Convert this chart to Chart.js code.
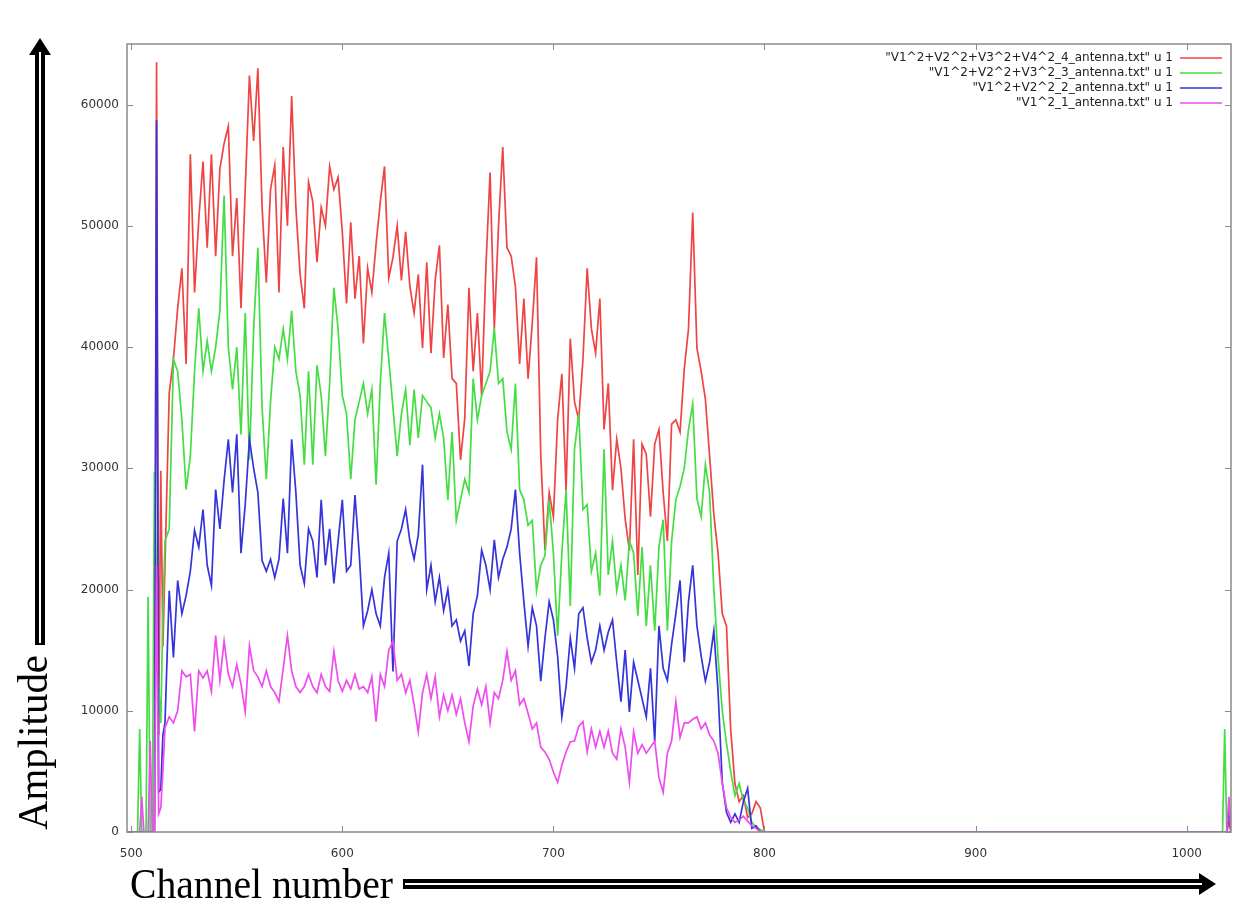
<!DOCTYPE html>
<html>
<head>
<meta charset="utf-8">
<title>Amplitude vs channel number</title>
<script src="https://cdn.jsdelivr.net/npm/chart.js@4.4.1/dist/chart.umd.min.js"></script>
<style>
  html, body { margin: 0; padding: 0; background: #fff; }
  #wrap { position: relative; width: 1253px; height: 909px; }
</style>
</head>
<body>
<div id="wrap"><canvas id="spectrum"></canvas></div>
<script>
// channel numbers (single steps around the start spikes, then every 2nd channel)
var channels = [
  498, 503, 504, 505, 506, 507, 508, 509, 510, 511, 512, 513, 514, 515, 516,
  518, 520, 522, 524, 526, 528, 530, 532, 534, 536,
  538, 540, 542, 544, 546, 548, 550, 552, 554, 556,
  558, 560, 562, 564, 566, 568, 570, 572, 574, 576,
  578, 580, 582, 584, 586, 588, 590, 592, 594, 596,
  598, 600, 602, 604, 606, 608, 610, 612, 614, 616,
  618, 620, 622, 624, 626, 628, 630, 632, 634, 636,
  638, 640, 642, 644, 646, 648, 650, 652, 654, 656,
  658, 660, 662, 664, 666, 668, 670, 672, 674, 676,
  678, 680, 682, 684, 686, 688, 690, 692, 694, 696,
  698, 700, 702, 704, 706, 708, 710, 712, 714, 716,
  718, 720, 722, 724, 726, 728, 730, 732, 734, 736,
  738, 740, 742, 744, 746, 748, 750, 752, 754, 756,
  758, 760, 762, 764, 766, 768, 770, 772, 774, 776,
  778, 780, 782, 784, 786, 788, 790, 792, 794, 796,
  798, 800,
  1017, 1018, 1019, 1020, 1021
];

// V1^2+V2^2+V3^2+V4^2 (4 antennas)
var ant4 = [
  0, 0, 0, 0, 0, 0, 0, 0, 0, 0, 63500, 8000, 29800, 15300, 22000,
  36200, 39000, 43200, 46500, 38600, 55900, 44500, 50500, 55300, 48200,
  55900, 47500, 54700, 56800, 58200, 47500, 52300, 43200, 53000, 62400,
  57000, 63000, 51500, 45300, 53000, 55000, 44500, 56500, 50000, 60700,
  51500, 46000, 43200, 53600, 52000, 47000, 51500, 50000, 54900, 53000,
  54000, 49500, 43600, 50300, 44000, 47500, 40300, 46500, 44500, 48500,
  52000, 54900, 45700, 47400, 50000, 45500, 49500, 45000, 42800, 46000,
  39900, 47000, 39500, 45500, 48400, 39100, 43500, 37400, 37000, 30700,
  34100, 44900, 38000, 42800, 36000, 46500, 54400, 41500, 50000, 56500,
  48200, 47500, 45000, 38600, 44000, 37400, 42000, 47400, 31150, 23240,
  28000, 26000, 34000, 37800, 28200, 40700, 35500, 34000, 39000, 46500,
  41500, 39500, 44000, 33200, 37000, 28200, 32400, 30000, 25800, 23200,
  32400, 21200, 32000, 31150, 26000, 32000, 33200, 28000, 24000, 33650,
  34000, 33000, 38200, 41500, 51100, 39900, 38000, 35700, 31000, 26200,
  23000, 18000, 17000, 8400, 4000, 2500, 3000, 1200, 1500, 2500,
  2000, 0,
  0, 0, 0, 800, 0
];

// V1^2+V2^2+V3^2 (3 antennas)
var ant3 = [
  0, 0, 8500, 0, 0, 0, 19400, 0, 0, 29700, 20000, 12000, 9000, 18000, 24000,
  25000, 39000, 38000, 34000, 28250, 31000, 38000, 43200, 38000, 40500,
  38000, 40000, 43000, 52500, 40000, 36500, 40000, 32800, 42800, 30700,
  41500, 48200, 35000, 29100, 35500, 40000, 39000, 41500, 39000, 43000,
  38000, 36000, 30300, 38000, 30300, 38500, 36000, 31000, 37000, 44900,
  41500, 36000, 34500, 29100, 34000, 35500, 37000, 34500, 36500, 28650,
  37000, 42800, 39000, 35000, 31000, 34500, 36500, 31900, 36500, 32500,
  36000, 35500, 35000, 32500, 34500, 32500, 27400, 33000, 25700, 27400,
  29100, 28000, 37400, 34000, 36000, 37000, 38000, 41550, 37000, 37400,
  33000, 31560, 37000, 28250, 27400, 25300, 25700, 19900, 22000, 22800,
  27400, 23000, 16200, 23000, 28200, 18650, 31560, 34500, 26600, 27000,
  21500, 23000, 19500, 31560, 21200, 24000, 19900, 22000, 19100, 24000,
  23000, 17840, 23500, 17000, 22000, 16600, 23500, 25750, 16600, 24000,
  27400, 28500, 30000, 33200, 35300, 27500, 26000, 30300, 28000, 20000,
  14400, 10000, 7300, 5000, 3000, 4000, 2600, 2000, 800, 400,
  200, 0,
  0, 8500, 0, 0, 0
];

// V1^2+V2^2 (2 antennas)
var ant2 = [
  0, 0, 0, 0, 0, 0, 0, 0, 0, 0, 58700, 3300, 3500, 8000, 9000,
  19900, 14400, 20750, 18000, 19500, 21500, 24900, 23500, 26600, 22000,
  20340, 28250, 25000, 29000, 32400, 28000, 32800, 23000, 27000, 32400,
  30000, 28000, 22400, 21500, 22500, 21000, 22500, 27500, 23000, 32400,
  28000, 22000, 20500, 25000, 24000, 21000, 27400, 22000, 25000, 20500,
  24000, 27400, 21500, 22000, 27800, 23000, 17000, 18250, 20000, 18000,
  17000, 21000, 23000, 13250, 24000, 25000, 26600, 24000, 22500, 24500,
  30300, 20000, 22000, 19000, 21000, 18250, 20000, 17000, 17500, 15750,
  16600, 13700, 18000, 19500, 23240, 22000, 20000, 24100, 21000, 22500,
  23500, 25000, 28250, 23000, 19000, 15330, 18500, 17000, 12450, 16000,
  19000, 17500, 14500, 9500, 12000, 16000, 13500, 18000, 18500, 16000,
  14000, 15000, 17000, 15000, 16500, 17500, 14000, 10750, 15000, 9900,
  14000, 12500, 11000, 9500, 13500, 7450, 17000, 13500, 12500, 15500,
  18000, 20750, 14000, 19000, 22000, 17000, 14500, 12450, 14000, 16600,
  11600, 4100, 1600, 800, 1500, 800, 2500, 3600, 300, 500,
  0, 0,
  0, 0, 0, 2000, 0
];

// V1^2 (1 antenna)
var ant1 = [
  0, 0, 0, 2900, 0, 0, 0, 7500, 0, 0, 22000, 1500, 2000, 5000, 8600,
  9500, 9000, 10000, 13300, 12800, 13000, 8300, 13300, 12700, 13300,
  11600, 16200, 12500, 15750, 13000, 12000, 13800, 12200, 9930, 15350,
  13300, 12800, 12000, 13300, 12000, 11500, 10770, 13500, 16200, 13300,
  12000, 11500, 12000, 13000, 12000, 11500, 13000, 12000, 11600, 14900,
  12500, 11600, 12500, 11800, 13000, 11800, 12000, 11500, 12800, 9100,
  13000, 12000, 15000, 15750, 12500, 13000, 11500, 12500, 10500, 8270,
  11500, 13000, 11000, 12800, 9500, 11300, 10000, 11300, 9700, 11000,
  9000, 7450, 10400, 11800, 10500, 12000, 9000, 11500, 11000, 12500,
  14900, 12500, 13300, 10500, 11000, 9800, 8500, 9000, 7000, 6600,
  6000, 4950, 4100, 5500, 6600, 7450, 7500, 8700, 9100, 6600,
  8500, 7000, 8300, 7000, 8300, 6500, 6000, 8500, 7000, 4100,
  8270, 6500, 7200, 6500, 7000, 7500, 4500, 3280, 6500, 7500,
  10750, 7800, 9000, 9000, 9300, 9500, 8500, 9000, 8000, 7500,
  6500, 4000, 2000, 1200, 800, 1000, 1300, 900, 500, 300,
  0, 0,
  0, 0, 0, 2900, 0
];

var seriesNames = [
  '"V1^2+V2^2+V3^2+V4^2_4_antenna.txt" u 1',
  '"V1^2+V2^2+V3^2_3_antenna.txt" u 1',
  '"V1^2+V2^2_2_antenna.txt" u 1',
  '"V1^2_1_antenna.txt" u 1'
];
var seriesColors = ['#ef4444', '#44dd44', '#3434da', '#ef4cef'];
var xTicks = [500, 600, 700, 800, 900, 1000];
var yTicks = [0, 10000, 20000, 30000, 40000, 50000, 60000];

function points(values) {
  return channels.map(function (c, i) { return { x: c, y: values[i] }; });
}

// thick black arrow with a thin white stripe down the middle
function drawArrow(ctx, x0, y0, x1, y1) {
  var len = Math.hypot(x1 - x0, y1 - y0);
  var head = 17, half = 11, shaft = 5;
  ctx.save();
  ctx.translate(x0, y0);
  ctx.rotate(Math.atan2(y1 - y0, x1 - x0));
  ctx.fillStyle = '#000';
  ctx.fillRect(0, -shaft, len - head + 1, shaft * 2);
  ctx.beginPath();
  ctx.moveTo(len, 0);
  ctx.lineTo(len - head, -half);
  ctx.lineTo(len - head, half);
  ctx.closePath();
  ctx.fill();
  ctx.strokeStyle = '#fff';
  ctx.lineWidth = 2;
  ctx.beginPath();
  ctx.moveTo(2, 0);
  ctx.lineTo(len - head + 3, 0);
  ctx.stroke();
  ctx.restore();
}

function fitText(ctx, text, x, y, width, angle) {
  ctx.save();
  ctx.translate(x, y);
  ctx.rotate(angle);
  var w = ctx.measureText(text).width;
  ctx.scale(width / w, 1);
  ctx.fillText(text, 0, 0);
  ctx.restore();
}

var gnuplotLook = {
  id: 'gnuplotLook',
  afterDatasetsDraw: function (chart) {
    var ctx = chart.ctx, a = chart.chartArea;
    var xs = chart.scales.x, ys = chart.scales.y;
    ctx.save();
    // border with inward ticks on all four sides
    ctx.strokeStyle = '#8a8a8a';
    ctx.lineWidth = 1.5;
    ctx.strokeRect(a.left, a.top, a.right - a.left, a.bottom - a.top);
    ctx.lineWidth = 1;
    ctx.beginPath();
    xTicks.forEach(function (v) {
      var px = Math.round(xs.getPixelForValue(v)) + 0.5;
      ctx.moveTo(px, a.bottom); ctx.lineTo(px, a.bottom - 6);
      ctx.moveTo(px, a.top); ctx.lineTo(px, a.top + 6);
    });
    yTicks.forEach(function (v) {
      var py = Math.round(ys.getPixelForValue(v)) + 0.5;
      ctx.moveTo(a.left, py); ctx.lineTo(a.left + 6, py);
      ctx.moveTo(a.right, py); ctx.lineTo(a.right - 6, py);
    });
    ctx.stroke();

    // key, top right: title then line sample
    ctx.font = '12px "DejaVu Sans"';
    ctx.textAlign = 'right';
    ctx.textBaseline = 'middle';
    chart.data.datasets.forEach(function (ds, i) {
      var yy = a.top + 14 + i * 15;
      ctx.fillStyle = '#222';
      ctx.fillText(ds.label, a.right - 58, yy);
      ctx.strokeStyle = ds.borderColor;
      ctx.lineWidth = 1.5;
      ctx.beginPath();
      ctx.moveTo(a.right - 51, yy);
      ctx.lineTo(a.right - 9, yy);
      ctx.stroke();
    });
    ctx.restore();
  },
  afterDraw: function (chart) {
    var ctx = chart.ctx;
    ctx.save();
    ctx.fillStyle = '#000';
    ctx.font = '42px "Liberation Serif"';
    ctx.textAlign = 'left';
    ctx.textBaseline = 'alphabetic';
    fitText(ctx, 'Amplitude', 47, 830, 175, -Math.PI / 2);
    fitText(ctx, 'Channel number', 130, 898, 263, 0);
    drawArrow(ctx, 40, 645, 40, 38);
    drawArrow(ctx, 403, 884, 1216, 884);
    ctx.restore();
  }
};

var datasets = [ant4, ant3, ant2, ant1].map(function (vals, i) {
  return {
    label: seriesNames[i],
    data: points(vals),
    borderColor: seriesColors[i],
    borderWidth: 1.7,
    pointRadius: 0,
    tension: 0,
    fill: false,
    order: 4 - i
  };
});

var tickFont = { family: 'DejaVu Sans', size: 12 };

new Chart(document.getElementById('spectrum'), {
  type: 'line',
  data: { datasets: datasets },
  options: {
    responsive: true,
    maintainAspectRatio: false,
    devicePixelRatio: 1,
    animation: false,
    events: [],
    layout: { padding: { top: 44, right: 22, left: 0, bottom: 0 } },
    plugins: { legend: { display: false }, tooltip: { enabled: false } },
    scales: {
      x: {
        type: 'linear',
        min: 498,
        max: 1021,
        grid: { display: false },
        border: { display: false },
        ticks: { font: tickFont, color: '#333', padding: 7, maxRotation: 0, autoSkip: false,
                 callback: function (v) { return String(v); } },
        afterBuildTicks: function (s) { s.ticks = xTicks.map(function (v) { return { value: v }; }); },
        afterFit: function (s) { s.height = 77; }
      },
      y: {
        min: 0,
        max: 65000,
        grid: { display: false },
        border: { display: false },
        ticks: { font: tickFont, color: '#333', padding: 0,
                 callback: function (v) { return String(v); } },
        afterBuildTicks: function (s) { s.ticks = yTicks.map(function (v) { return { value: v }; }); },
        afterFit: function (s) { s.width = 127; }
      }
    }
  },
  plugins: [gnuplotLook]
});
</script>
</body>
</html>
